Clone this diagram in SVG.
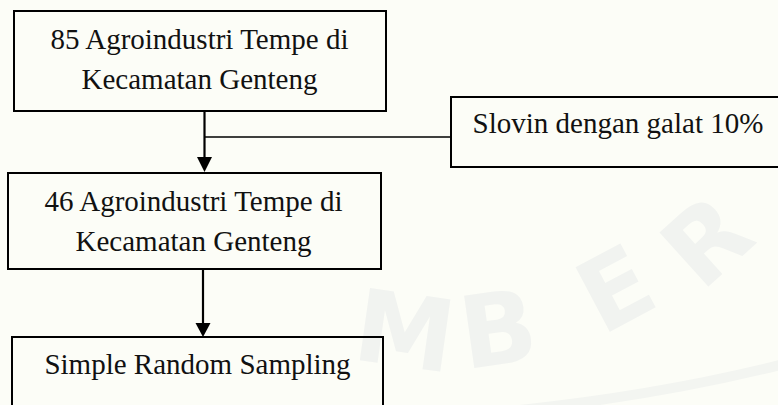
<svg xmlns="http://www.w3.org/2000/svg" width="778" height="405" viewBox="0 0 778 405">
  <style>
    .box { fill: none; stroke: #000; stroke-width: 2; }
    .label { font-family: "Liberation Serif", "Times New Roman", serif; font-size: 29px; fill: #111; text-anchor: middle; }
    .wire { stroke: #000; stroke-width: 2.2; fill: none; }
    .branch { stroke: #000; stroke-width: 1.6; fill: none; }
    .head { fill: #000; }
    .wm { font-family: "DejaVu Sans", "Liberation Sans", sans-serif; font-weight: bold; font-size: 100px; fill: #f1f3f0; text-anchor: middle; }
    .wm-arc { fill: none; stroke: #f3f5f1; stroke-width: 10; }
  </style>

  <!-- page background with faint watermark -->
  <rect x="0" y="0" width="778" height="405" fill="#fcfdf7"/>
  <g id="watermark">
    <path class="wm-arc" d="M 520 410 Q 660 395 780 365"/>
    <text class="wm" transform="translate(400 366) rotate(8)">M</text>
    <text class="wm" transform="translate(503 364) rotate(-8)">B</text>
    <text class="wm" transform="translate(632 320) rotate(-28)">E</text>
    <text class="wm" transform="translate(730 267) rotate(-42)">R</text>
  </g>

  <!-- connectors -->
  <g id="connectors">
    <line class="wire" x1="204.5" y1="111" x2="204.5" y2="158"/>
    <polygon class="head" points="197,157 212,157 204.5,172"/>
    <line class="branch" x1="204.5" y1="137" x2="451" y2="137"/>
    <line class="wire" x1="203" y1="269" x2="203" y2="324"/>
    <polygon class="head" points="195.5,323 210.5,323 203,337"/>
  </g>

  <g id="population">
    <rect class="box" x="14" y="11" width="372" height="100"/>
    <text class="label" x="199.5" y="49">85 Agroindustri Tempe di</text>
    <text class="label" x="199.5" y="89">Kecamatan Genteng</text>
  </g>

  <g id="slovin">
    <rect class="box" x="451" y="97" width="332" height="70"/>
    <text class="label" x="618" y="133">Slovin dengan galat 10%</text>
  </g>

  <g id="sample">
    <rect class="box" x="8" y="173" width="373" height="96"/>
    <text class="label" x="193.5" y="211">46 Agroindustri Tempe di</text>
    <text class="label" x="193.5" y="251">Kecamatan Genteng</text>
  </g>

  <g id="method">
    <rect class="box" x="12" y="337" width="371" height="80"/>
    <text class="label" x="197.5" y="374">Simple Random Sampling</text>
  </g>
</svg>
